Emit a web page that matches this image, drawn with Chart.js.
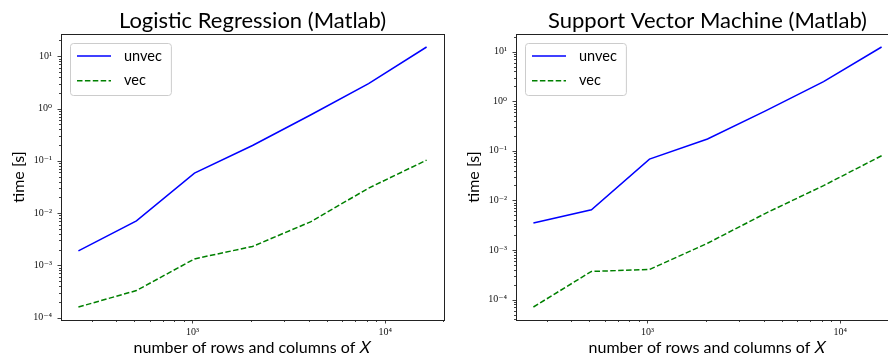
<!DOCTYPE html>
<html><head><meta charset="utf-8">
<script src="https://cdn.jsdelivr.net/npm/chart.js@4.4.1/dist/chart.umd.min.js"></script>
<style>
html,body{margin:0;padding:0;background:#fff;overflow:hidden;width:888px;height:356px;position:relative;}
.wrap{position:absolute;top:0;width:505px;height:356px;}
#w1{left:0}
#w2{left:455px}
canvas{display:block}
</style></head><body>
<div class="wrap" id="w1"><canvas id="c1" width="505" height="356"></canvas></div>
<div class="wrap" id="w2"><canvas id="c2" width="505" height="356"></canvas></div>
<script>
// ---- data ----
const sizes = [256, 512, 1024, 2048, 4096, 8192, 16384];
const lrUnvec = [1.9e-3, 7.1e-3, 0.058, 0.196, 0.75, 3.0, 15.0];
const lrVec = [1.6e-4, 3.3e-4, 1.33e-3, 2.3e-3, 6.8e-3, 0.030, 0.103];
const svmUnvec = [3.5e-3, 6.5e-3, 0.068, 0.173, 0.64, 2.49, 12.4];
const svmVec = [7.1e-5, 3.7e-4, 4.05e-4, 1.37e-3, 5.5e-3, 0.0199, 0.0797];
const seriesLabels = ['unvec', 'vec'];
const titles = ['Logistic Regression (Matlab)', 'Support Vector Machine (Matlab)'];
const xTitle = 'number of rows and columns of 𝑋';
const yTitle = 'time [s]';

const SANS = 'Lato, "Open Sans", sans-serif';
const SERIF = '"Liberation Serif", "DejaVu Serif", serif';

const SUP = {'0':'⁰','1':'¹','2':'²','3':'³','4':'⁴','5':'⁵','6':'⁶','7':'⁷','8':'⁸','9':'⁹','-':'⁻'};
function supLabel(v) {
  const e = Math.round(Math.log10(v));
  return '10' + String(e).split('').map(c => SUP[c]).join('');
}
function logLimits(vals) {
  const lo = Math.log10(Math.min(...vals)), hi = Math.log10(Math.max(...vals));
  const m = 0.05 * (hi - lo);
  return [Math.pow(10, lo - m), Math.pow(10, hi + m)];
}
function logTicks(scale) {
  const ticks = [];
  const e0 = Math.floor(Math.log10(scale.min)), e1 = Math.ceil(Math.log10(scale.max));
  for (let e = e0; e <= e1; e++) {
    for (let k = 1; k < 10; k++) {
      const v = k * Math.pow(10, e);
      if (v >= scale.min && v <= scale.max) ticks.push({value: v, major: k === 1});
    }
  }
  scale.ticks = ticks;
}

const mplAxes = {
  id: 'mplAxes',
  afterDraw(chart) {
    const ctx = chart.ctx, a = chart.chartArea;
    const xs = chart.scales.x, ys = chart.scales.y;
    ctx.save();
    ctx.strokeStyle = '#111';
    ctx.lineWidth = 0.8;
    xs.ticks.forEach(t => {
      const p = Math.round(xs.getPixelForValue(t.value)) + 0.5;
      const L = t.major ? 3.5 : 2;
      ctx.beginPath(); ctx.moveTo(p, a.bottom); ctx.lineTo(p, a.bottom + L); ctx.stroke();
    });
    ys.ticks.forEach(t => {
      const p = Math.round(ys.getPixelForValue(t.value)) + 0.5;
      const L = t.major ? 3.5 : 2;
      ctx.beginPath(); ctx.moveTo(a.left, p); ctx.lineTo(a.left - L, p); ctx.stroke();
    });
    ctx.lineWidth = 1;
    ctx.strokeStyle = '#222';
    ctx.strokeRect(Math.round(a.left) + 0.5, Math.round(a.top) + 0.5,
                   Math.round(a.right - a.left), Math.round(a.bottom - a.top));
    ctx.restore();
  }
};

const mplLegend = {
  id: 'mplLegend',
  afterDraw(chart, args, o) {
    const ctx = chart.ctx, a = chart.chartArea;
    ctx.save();
    ctx.font = `${o.fontSize}px ${SANS}`;
    const dss = chart.data.datasets;
    const tw = Math.max(...dss.map(d => ctx.measureText(d.label).width));
    const fx = a.left + o.inset, fy = a.top + o.inset;
    const fw = o.textStart + tw + o.pad, fh = o.height;
    ctx.beginPath();
    ctx.roundRect(fx + 0.5, fy + 0.5, fw, fh, 3);
    ctx.fillStyle = 'rgba(255,255,255,0.8)';
    ctx.fill();
    ctx.strokeStyle = '#cccccc';
    ctx.lineWidth = 1;
    ctx.stroke();
    dss.forEach((d, i) => {
      const y = fy + o.firstRow + i * o.rowGap;
      ctx.strokeStyle = d.borderColor;
      ctx.lineWidth = d.borderWidth;
      ctx.setLineDash(d.borderDash || []);
      ctx.beginPath();
      ctx.moveTo(fx + o.handleStart, y);
      ctx.lineTo(fx + o.handleStart + o.handleLen, y);
      ctx.stroke();
      ctx.setLineDash([]);
      ctx.fillStyle = '#000';
      ctx.textBaseline = 'middle';
      ctx.textAlign = 'left';
      ctx.fillText(d.label, fx + o.textStart, y);
    });
    ctx.restore();
  }
};

function makeChart(id, title, unvec, vec) {
  const [ymin, ymax] = logLimits(unvec.concat(vec));
  const [xmin, xmax] = logLimits(sizes);
  const tickCb = (value, index, ticks) => ticks[index].major ? supLabel(value) : '';
  return new Chart(document.getElementById(id), {
    type: 'line',
    data: {
      datasets: [
        {label: seriesLabels[0], data: sizes.map((x, i) => ({x, y: unvec[i]})),
         borderColor: '#0000ff', backgroundColor: 'transparent', borderWidth: 1.5,
         pointRadius: 0, tension: 0, fill: false},
        {label: seriesLabels[1], data: sizes.map((x, i) => ({x, y: vec[i]})),
         borderColor: '#008000', backgroundColor: 'transparent', borderWidth: 1.5,
         borderDash: [5.5, 2.4], pointRadius: 0, tension: 0, fill: false}
      ]
    },
    options: {
      responsive: false,
      animation: false,
      devicePixelRatio: 1,
      layout: {padding: 0},
      plugins: {
        legend: {display: false},
        tooltip: {enabled: false},
        title: {display: true, text: title, color: '#000',
                font: {family: SANS, size: 22, weight: 'normal', lineHeight: 1},
                padding: {top: 10, bottom: 2}},
        mplLegend: {fontSize: 14.5, inset: 9, height: 52, firstRow: 13, rowGap: 24.7,
                    handleStart: 7, handleLen: 34, textStart: 54, pad: 9}
      },
      scales: {
        x: {
          type: 'logarithmic', position: 'bottom', min: xmin, max: xmax,
          afterBuildTicks: logTicks,
          afterFit: s => { s.height = 36; },
          grid: {display: false, drawTicks: false},
          border: {display: false},
          ticks: {autoSkip: false, maxRotation: 0, minRotation: 0, padding: 6,
                  color: '#111', font: {family: SERIF, size: 10}, callback: tickCb},
          title: {display: true, text: xTitle, color: '#000',
                  font: {family: SANS, size: 16, lineHeight: 1}, padding: {top: 0, bottom: 0}}
        },
        y: {
          type: 'logarithmic', position: 'left', min: ymin, max: ymax,
          afterBuildTicks: logTicks,
          afterFit: s => { s.width = 61; },
          grid: {display: false, drawTicks: false},
          border: {display: false},
          ticks: {autoSkip: false, padding: 9,
                  color: '#111', font: {family: SERIF, size: 10}, callback: tickCb},
          title: {display: true, text: yTitle, color: '#000',
                  font: {family: SANS, size: 16, lineHeight: 1}, padding: {top: 11, bottom: 0}}
        },
        yRight: {
          type: 'linear', position: 'right', display: true,
          afterFit: s => { s.width = 61; },
          grid: {display: false, drawTicks: false},
          border: {display: false},
          ticks: {display: false}
        }
      }
    },
    plugins: [mplAxes, mplLegend]
  });
}

makeChart('c1', titles[0], lrUnvec, lrVec);
makeChart('c2', titles[1], svmUnvec, svmVec);
</script>
</body></html>
